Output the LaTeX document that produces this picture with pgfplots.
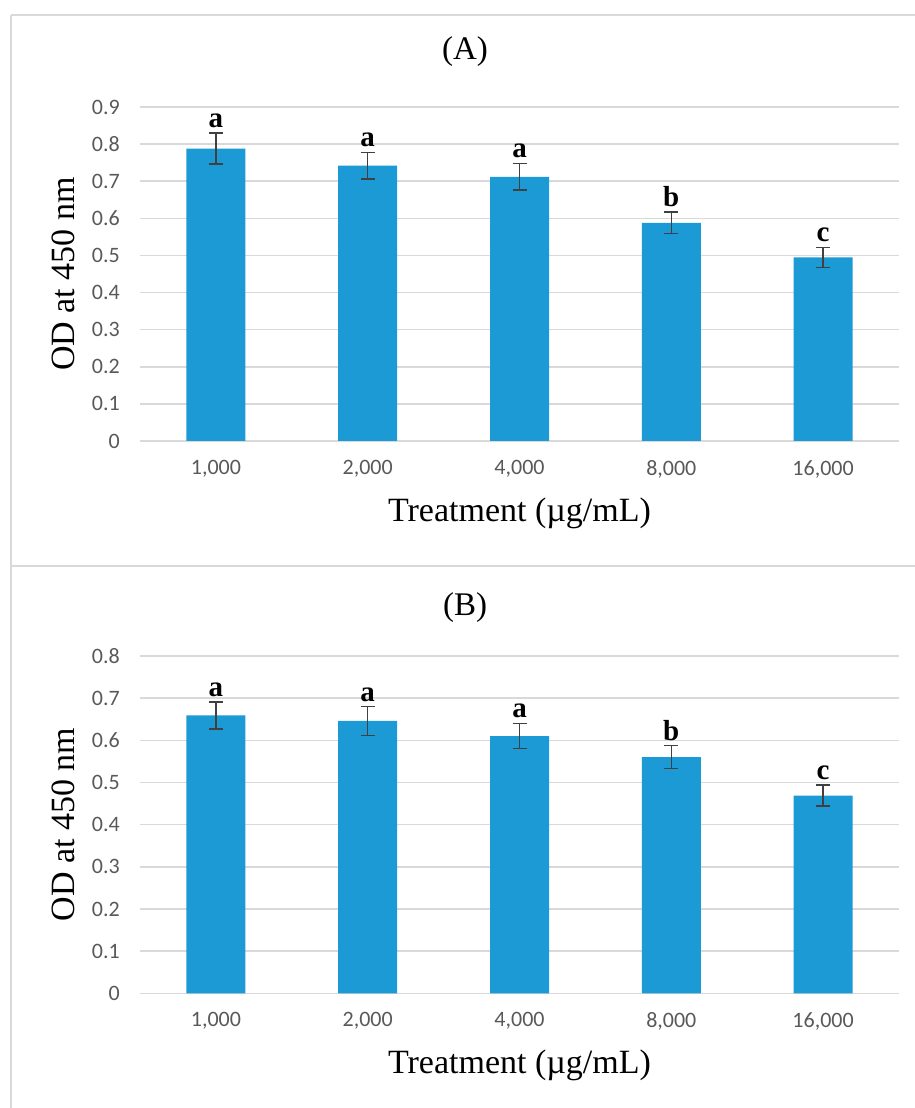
\documentclass[border=0pt]{standalone}
\usepackage{pgfplots}
\pgfplotsset{compat=1.18}
\usepackage{fontspec}
\setmainfont{Liberation Serif}
\newfontfamily\calibri{Carlito}
\definecolor{barblue}{HTML}{1B9AD6}
\definecolor{gridgray}{HTML}{D9D9D9}
\definecolor{ticklab}{HTML}{595959}
\definecolor{errgray}{HTML}{404040}

\pgfplotstableread{
x y e
0 0.788 0.042
1 0.742 0.036
2 0.712 0.036
3 0.588 0.029
4 0.495 0.027
}\dataA
\pgfplotstableread{
x y e
0 0.659 0.032
1 0.646 0.034
2 0.610 0.030
3 0.560 0.027
4 0.469 0.025
}\dataB

\tikzset{letter/.style={font=\bfseries\fontsize{29}{30}\selectfont, anchor=south, inner sep=0pt, yshift=5pt}}

\pgfplotsset{
  panel/.style={
    scale only axis,
    width=759pt,
    xmin=-0.5, xmax=4.5, ymin=0,
    ybar, bar width=59pt,
    axis line style={draw=none},
    major tick length=0pt,
    ymajorgrids,
    grid style={line width=1.5pt, color=gridgray},
    xtick={0,1,2,3,4},
    xticklabels={{1,000},{2,000},{4,000},{8,000},{16,000}},
    ytick distance=0.1,
    /pgf/number format/assume math mode=true,
    tick label style={font=\calibri\fontsize{22}{26}\selectfont, text=ticklab, inner sep=0pt},
    xticklabel style={anchor=north, yshift=-19pt},
    yticklabel style={anchor=east, xshift=-20pt},
    ylabel={OD at 450 nm},
    xlabel={Treatment (\textmu g/mL)},
    label style={font=\fontsize{34}{38}\selectfont},
    ylabel style={at={(axis description cs:-0.101,0.5)}, anchor=center, rotate=0},
    clip=false,
  },
  errs/.style={
    fill=barblue, draw=none,
    error bars/.cd, y dir=both, y explicit,
    error bar style={line width=1.3pt, color=errgray},
    error mark options={rotate=90, line width=1.3pt, color=errgray, mark size=7pt},
  },
}

\begin{document}
\begin{tikzpicture}[x=1pt,y=1pt]
\path[use as bounding box] (0,0) rectangle (914,1108);
\draw[gridgray, line width=2pt] (11,1093) -- (930,1093);
\draw[gridgray, line width=2pt] (11,1093) -- (11,-10);
\draw[gridgray, line width=2pt] (11,542) -- (930,542);

\node[font=\fontsize{33}{36}\selectfont] at (465,1056) {(A)};
\node[font=\fontsize{33}{36}\selectfont] at (465,500) {(B)};

\begin{axis}[panel, at={(140pt,667pt)}, anchor=south west, height=334pt, ymax=0.9,
  xlabel style={at={(axis description cs:0.5,-0.2156)}, anchor=center}]
\addplot[errs] table[x=x, y=y, y error=e] {\dataA};
\node[letter] at (axis cs:0,0.830) {a};
\node[letter] at (axis cs:1,0.778) {a};
\node[letter] at (axis cs:2,0.748) {a};
\node[letter] at (axis cs:3,0.617) {b};
\node[letter] at (axis cs:4,0.522) {c};
\end{axis}

\begin{axis}[panel, at={(140pt,114.7pt)}, anchor=south west, height=337.3pt, ymax=0.8,
  xlabel style={at={(axis description cs:0.5,-0.2135)}, anchor=center}]
\addplot[errs] table[x=x, y=y, y error=e] {\dataB};
\node[letter] at (axis cs:0,0.691) {a};
\node[letter] at (axis cs:1,0.680) {a};
\node[letter] at (axis cs:2,0.640) {a};
\node[letter] at (axis cs:3,0.587) {b};
\node[letter] at (axis cs:4,0.494) {c};
\end{axis}
\end{tikzpicture}
\end{document}
